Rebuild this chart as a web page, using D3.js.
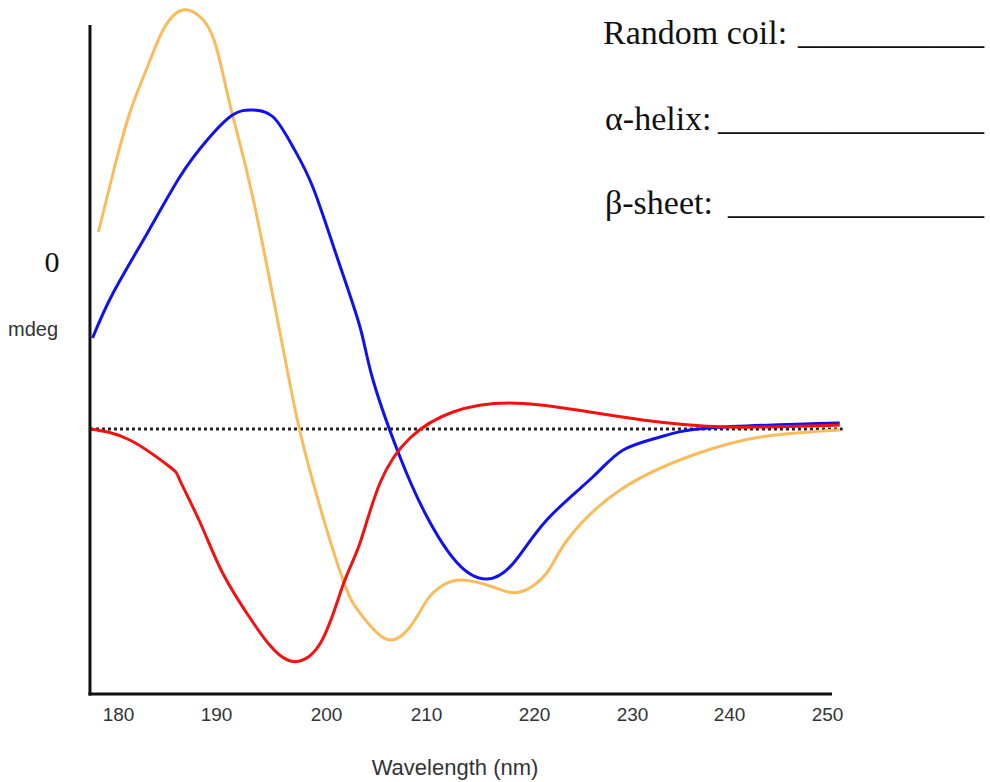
<!DOCTYPE html>
<html>
<head>
<meta charset="utf-8">
<script src="https://cdn.jsdelivr.net/npm/d3@7"></script>
<style>
  html, body { margin: 0; padding: 0; background: #fff; }
  svg { display: block; }
</style>
</head>
<body>
<svg id="chart" width="990" height="782"></svg>
<script>
// wavelength tick labels (nm)
const ticks = [180, 190, 200, 210, 220, 230, 240, 250];

// CD spectra: [wavelength nm, signal (arbitrary mdeg units)]
const orangeCurve = [
  [178.0, 19.7], [179.5, 25.6], [181.2, 31.6], [183.0, 36.2], [184.6, 39.9],
  [186.6, 41.9], [188.7, 40.9], [190.1, 37.9], [191.5, 31.4], [193.4, 22.9],
  [196.3, 6.9], [197.6, -0.1], [199.2, -6.8], [201.7, -15.1], [203.4, -18.4],
  [206.0, -21.0], [208.4, -19.8], [210.1, -17.1], [211.6, -15.6], [213.4, -15.1],
  [216.2, -15.8], [218.7, -16.3], [221.3, -14.4], [223.4, -11.1], [228.8, -6.1],
  [236.3, -2.6], [243.2, -0.8], [251.3, -0.1]
];
const blueCurve = [
  [177.4, 9.1], [179.5, 13.6], [183.0, 19.6], [186.3, 25.2], [189.1, 28.9],
  [191.5, 31.4], [193.3, 31.9], [195.2, 31.2], [197.0, 28.2], [198.8, 24.2],
  [201.1, 17.2], [203.4, 10.2], [204.7, 4.9], [207.4, -2.8], [210.1, -8.8],
  [212.9, -13.4], [215.6, -15.0], [218.1, -13.4], [221.3, -9.1], [226.0, -4.8],
  [229.1, -2.1], [232.9, -0.8], [238.0, 0.1], [251.3, 0.6]
];
const redCurve = [
  [177.1, 0.0], [181.2, -1.1], [185.3, -3.8], [186.3, -5.1], [188.4, -9.4],
  [190.6, -14.4], [193.4, -19.4], [196.5, -23.1], [199.5, -21.4], [201.7, -15.6],
  [203.4, -11.4], [205.4, -5.4], [208.4, -0.9], [212.5, 1.7], [217.8, 2.6],
  [224.4, 1.9], [231.1, 0.9], [239.8, 0.2], [251.3, 0.4]
];
const answerLabels = ["Random coil:", "\u03b1-helix:", "\u03b2-sheet:"];
const answerBlanks = ["__________", "_______________", "______________"];

const svg = d3.select("#chart");

// the printed axis is not evenly spaced, so map each tick label to its spot
const labelPos = [118, 216, 326, 426, 534, 632, 729, 827];
const x = d3.scaleLinear().domain(ticks).range(labelPos);
const y = d3.scaleLinear().domain([-26.5, 40.4]).range([694, 25]);

const xStart = 177.14, xEnd = 251.6;

// zero reference line (dotted)
svg.append("line")
  .attr("x1", x(xStart)).attr("x2", x(xEnd))
  .attr("y1", y(0)).attr("y2", y(0))
  .attr("stroke", "#222")
  .attr("stroke-width", 3)
  .attr("stroke-dasharray", "3,3");

const line = d3.line()
  .x(d => x(d[0]))
  .y(d => y(d[1]))
  .curve(d3.curveNatural);

const series = [
  { data: orangeCurve, color: "#f8bc5c" },
  { data: blueCurve, color: "#1010f0" },
  { data: redCurve, color: "#f51010" }
];

svg.selectAll("path.curve")
  .data(series)
  .join("path")
  .attr("class", "curve")
  .attr("d", d => line(d.data))
  .attr("fill", "none")
  .attr("stroke", d => d.color)
  .attr("stroke-width", 3)
  .attr("stroke-linejoin", "round");

// axis lines
svg.append("line")
  .attr("x1", x(xStart)).attr("x2", x(xStart))
  .attr("y1", y(40.4)).attr("y2", y(-26.5) + 1.5)
  .attr("stroke", "#111").attr("stroke-width", 3);
svg.append("line")
  .attr("x1", x(xStart) - 1.5).attr("x2", 832)
  .attr("y1", y(-26.5)).attr("y2", y(-26.5))
  .attr("stroke", "#111").attr("stroke-width", 3);

const xAxis = svg.append("g")
  .attr("transform", `translate(0,${y(-26.5)})`)
  .call(d3.axisBottom(x).tickValues(ticks).tickSize(0).tickPadding(13.5));
xAxis.select(".domain").remove();
xAxis.selectAll("text")
  .attr("font-family", "'Liberation Sans', Arial, sans-serif")
  .attr("font-size", 19)
  .attr("fill", "#333");

svg.append("text")
  .attr("x", 455).attr("y", 775)
  .attr("text-anchor", "middle")
  .attr("font-family", "'Liberation Sans', Arial, sans-serif")
  .attr("font-size", 22)
  .attr("fill", "#333")
  .text("Wavelength (nm)");

svg.append("text")
  .attr("x", 8).attr("y", 336)
  .attr("font-family", "'Liberation Sans', Arial, sans-serif")
  .attr("font-size", 20)
  .attr("fill", "#333")
  .text("mdeg");

svg.append("text")
  .attr("x", 52).attr("y", 272)
  .attr("text-anchor", "middle")
  .attr("font-family", "'Liberation Serif', 'Times New Roman', serif")
  .attr("font-size", 30)
  .attr("fill", "#111")
  .text("0");

// fill-in-the-blank labels, top right
const blankStart = [798, 718, 728];
const labelY = [44, 130, 214];
const answers = svg.selectAll("text.answer")
  .data(answerLabels)
  .join("text")
  .attr("class", "answer")
  .attr("y", (d, i) => labelY[i])
  .attr("font-family", "'Liberation Serif', 'Times New Roman', serif")
  .attr("font-size", 34)
  .attr("fill", "#111");
answers.append("tspan")
  .attr("x", (d, i) => i === 0 ? 603 : 605)
  .text(d => d);
answers.append("tspan")
  .attr("x", (d, i) => blankStart[i])
  .attr("textLength", (d, i) => 984 - blankStart[i])
  .attr("lengthAdjust", "spacingAndGlyphs")
  .text((d, i) => answerBlanks[i]);
</script>
</body>
</html>
